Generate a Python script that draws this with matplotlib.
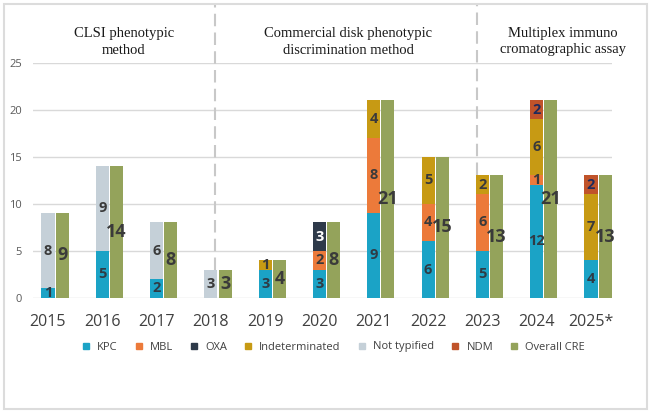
import numpy as np
import matplotlib.pyplot as plt
from matplotlib.patches import Rectangle
from matplotlib.lines import Line2D

years = ["2015", "2016", "2017", "2018", "2019", "2020", "2021", "2022", "2023", "2024", "2025*"]

kpc = [1, 5, 2, 0, 3, 3, 9, 6, 5, 12, 4]
mbl = [0, 0, 0, 0, 0, 2, 8, 4, 6, 1, 0]
oxa = [0, 0, 0, 0, 0, 3, 0, 0, 0, 0, 0]
indet = [0, 0, 0, 0, 1, 0, 4, 5, 2, 6, 7]
not_typ = [8, 9, 6, 3, 0, 0, 0, 0, 0, 0, 0]
ndm = [0, 0, 0, 0, 0, 0, 0, 0, 0, 2, 2]
overall = [9, 14, 8, 3, 4, 8, 21, 15, 13, 21, 13]

series = [("KPC", kpc, "#1ba3c6", "#2f3b45"),
          ("MBL", mbl, "#ec7a3a", "#3a3a3a"),
          ("OXA", oxa, "#2e3a4a", "white"),
          ("Indeterminated", indet, "#c79a14", "#3a3a3a"),
          ("Not typified", not_typ, "#c5d0d8", "#3a3a3a"),
          ("NDM", ndm, "#c0532a", "#1f2a5c")]
overall_color = "#94a35b"

methods = ["CLSI phenotypic\nmethod",
           "Commercial disk phenotypic\ndiscrimination method",
           "Multiplex immuno\ncromatographic assay"]

plt.rcParams['font.family'] = ['Open Sans', 'DejaVu Sans']

fig = plt.figure(figsize=(6.5, 4.13), dpi=100)
W, H = 650, 413
ax = fig.add_axes([33 / W, 1 - 297.7 / H, (612 - 33) / W, 235 / H])

x = np.arange(len(years))
bw = 0.24
bottom = np.zeros(len(years))
for name, vals, col, tcol in series:
    vals = np.array(vals, dtype=float)
    ax.bar(x, vals, bw, bottom=bottom, color=col, zorder=3)
    for i in range(len(years)):
        if vals[i] > 0:
            ax.text(x[i], bottom[i] + vals[i] / 2, str(int(vals[i])), ha='center', va='center',
                    fontsize=10.5, fontweight='bold', color=tcol, zorder=4)
    bottom += vals

ax.bar(x + 0.26, overall, bw, color=overall_color, zorder=3)
for i in range(len(years)):
    ax.text(x[i] + 0.26, overall[i] / 2, str(overall[i]), ha='center', va='center',
            fontsize=13, fontweight='bold', color="#3a3a3a", zorder=4)

ax.set_xlim((33 - 48) / 54.3, (612 - 48) / 54.3)
ax.set_ylim(0, 25)
ax.set_yticks([0, 5, 10, 15, 20, 25])
ax.yaxis.grid(True, color="#d9d9d9", lw=1, zorder=0)
ax.set_xticks(x)
ax.set_xticklabels(years, fontsize=11.5, color="#404040")
ax.tick_params(axis='x', length=0, pad=12)
ax.tick_params(axis='y', length=0, labelsize=8, labelcolor="#595959", pad=8)
for s in ax.spines.values():
    s.set_visible(False)

# dashed separators between method periods
for sx, top in [(3.075, overall[3]), (7.9, overall[8])]:
    ax.plot([sx, sx], [top, 31.1], ls=(0, (6, 3)), color="#c8c8c8", lw=1.5, clip_on=False, zorder=2)

for tx, txt in zip([124, 348, 563], methods):
    fig.text(tx / W, 1 - 42 / H, txt, ha='center', va='center', fontsize=10.5,
             family='Liberation Serif', color="#1a1a1a", linespacing=1.3)

handles = [Line2D([], [], marker='s', ls='', color=c, markersize=5) for _, _, c, _ in series]
handles.append(Line2D([], [], marker='s', ls='', color=overall_color, markersize=5))
labels = [s[0] for s in series] + ["Overall CRE"]
fig.legend(handles, labels, loc='center', bbox_to_anchor=(330 / W, 1 - 347 / H), ncol=7,
           frameon=False, fontsize=8, handletextpad=0.0, columnspacing=0.9,
           labelcolor="#404040")

fig.patches.append(Rectangle((4 / W, 4 / H), 643 / W, 405 / H, transform=fig.transFigure,
                             fill=False, edgecolor="#dcdcdc", lw=1.5))

fig.savefig("out.png", dpi=100)
